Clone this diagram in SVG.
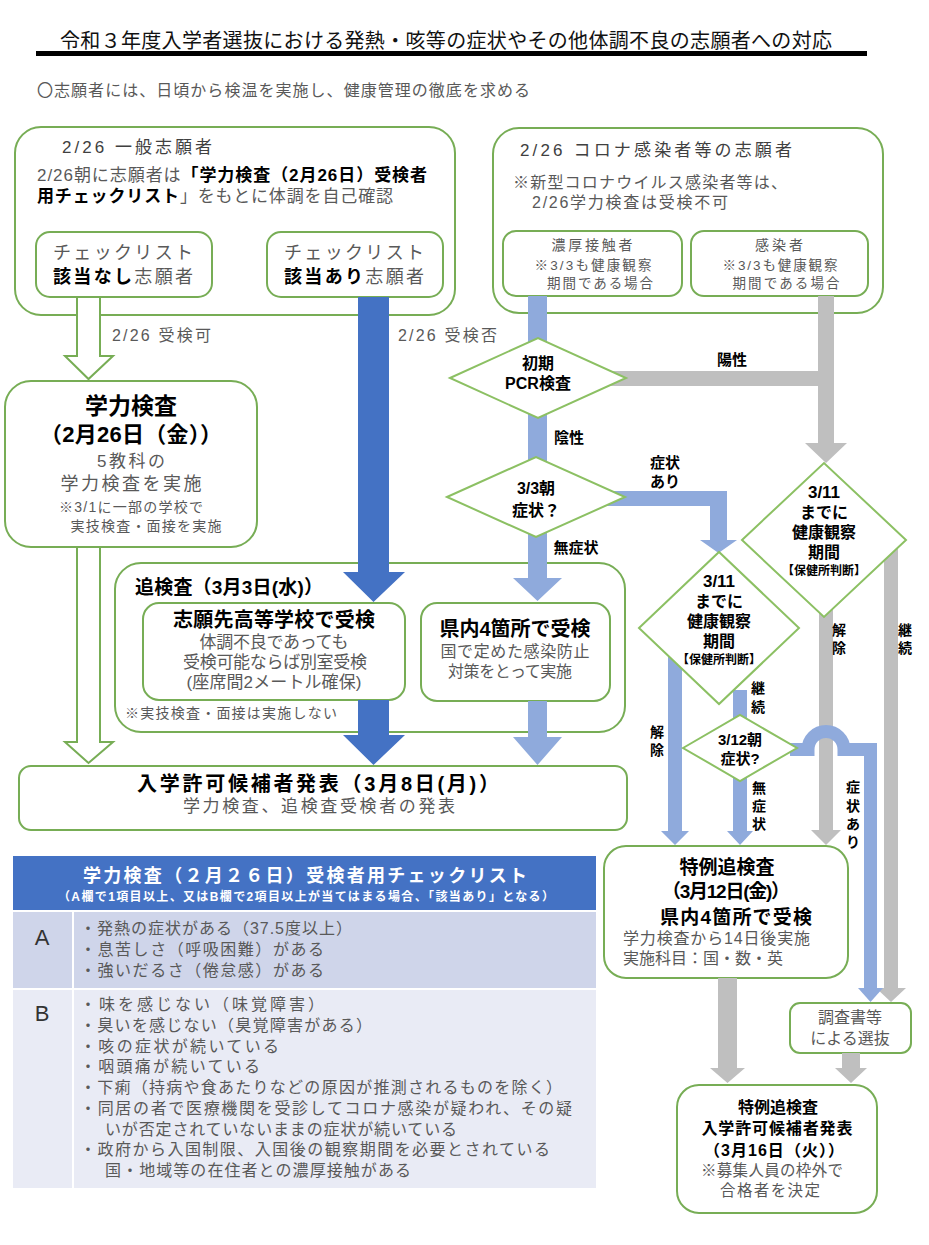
<svg xmlns="http://www.w3.org/2000/svg" width="929" height="1245" viewBox="0 0 929 1245">
<style>
text{font-family:"Liberation Sans","Noto Sans CJK JP","Noto Sans CJK SC",sans-serif;}
.g{fill:#595959}
.k{fill:#000;font-weight:bold}
.w{fill:#fff;font-weight:bold}
.box{fill:#fff;stroke:#77AD55;stroke-width:2}
.dia{fill:#fff;stroke:#8CC063;stroke-width:2}
.lb{fill:#8FAADC}
.gr{fill:#BFBFBF}
.db{fill:#4472C4}
.wa{fill:#fff;stroke:#77AD55;stroke-width:2}
.m{text-anchor:middle}
</style>
<rect width="929" height="1245" fill="#fff"/>

<g id="title">
<text x="60" y="48" font-size="20" textLength="772" fill="#111">令和３年度入学者選抜における発熱・咳等の症状やその他体調不良の志願者への対応</text>
<rect x="36" y="51" width="831" height="5" fill="#000"/>
<text x="37" y="96" font-size="16" textLength="493" class="g">〇志願者には、日頃から検温を実施し、健康管理の徹底を求める</text>
</g>

<g id="general">
<rect class="box" x="15" y="127" width="440" height="188" rx="26"/>
<text x="62" y="153" font-size="17" textLength="150" fill="#404040">2/26 一般志願者</text>
<text x="37" y="181" font-size="17" textLength="390"><tspan class="g">2/26朝に志願者は</tspan><tspan class="k">「学力検査（2月26日）受検者</tspan></text>
<text x="37" y="202" font-size="17" textLength="356"><tspan class="k">用チェックリスト</tspan><tspan class="g">」をもとに体調を自己確認</tspan></text>
</g>
<g id="nocheck">
<rect class="box" x="36" y="232" width="176" height="65" rx="14"/>
<text x="123" y="259" font-size="18" textLength="140" class="g m">チェックリスト</text>
<text x="123" y="283" font-size="18" textLength="140" class="m"><tspan class="k">該当なし</tspan><tspan class="g">志願者</tspan></text>
</g>
<g id="yescheck">
<rect class="box" x="267" y="232" width="176" height="65" rx="14"/>
<text x="354" y="259" font-size="18" textLength="140" class="g m">チェックリスト</text>
<text x="354" y="283" font-size="18" textLength="140" class="m"><tspan class="k">該当あり</tspan><tspan class="g">志願者</tspan></text>
</g>

<g id="corona">
<rect class="box" x="493" y="128" width="390" height="185" rx="26"/>
<text x="520" y="156" font-size="17" textLength="272" fill="#404040">2/26 コロナ感染者等の志願者</text>
<text x="513" y="188" font-size="16" textLength="274" class="g">※新型コロナウイルス感染者等は、</text>
<text x="532" y="208" font-size="16" textLength="196" class="g">2/26学力検査は受検不可</text>
</g>
<g id="close-contact">
<rect class="box" x="503" y="231" width="179" height="65" rx="13"/>
<text x="592" y="250" font-size="14" textLength="81" class="g m">濃厚接触者</text>
<text x="593" y="270" font-size="13.5" textLength="117" class="g m">※3/3も健康観察</text>
<text x="600" y="288" font-size="13.5" textLength="106" class="g m">期間である場合</text>
</g>
<g id="infected">
<rect class="box" x="691" y="231" width="177" height="65" rx="13"/>
<text x="779" y="250" font-size="14" textLength="48" class="g m">感染者</text>
<text x="780" y="270" font-size="13.5" textLength="115" class="g m">※3/3も健康観察</text>
<text x="786" y="288" font-size="13.5" textLength="107" class="g m">期間である場合</text>
</g>

<g id="exam">
<rect class="box" x="5" y="381" width="252" height="166" rx="26"/>
<text x="131" y="414" font-size="23" class="k m">学力検査</text>
<text x="131" y="442" font-size="22" textLength="182" class="k m">（2月26日（金））</text>
<text x="131" y="467" font-size="17" textLength="68" class="g m">5教科の</text>
<text x="131" y="490" font-size="18" textLength="141" class="g m">学力検査を実施</text>
<text x="131" y="512" font-size="14" textLength="144" class="g m">※3/1に一部の学校で</text>
<text x="146" y="531" font-size="14" textLength="151" class="g m">実技検査・面接を実施</text>
</g>

<g id="makeup">
<rect class="box" x="115" y="563" width="510" height="169" rx="26"/>
<text x="135" y="594" font-size="19" textLength="188" class="k">追検査（3月3日(水)）</text>
<text x="125" y="718" font-size="14" textLength="212" class="g">※実技検査・面接は実施しない</text>
</g>
<g id="own-school">
<rect class="box" x="143" y="603" width="262" height="97" rx="16"/>
<text x="274" y="627" font-size="20" textLength="202" class="k m">志願先高等学校で受検</text>
<text x="274" y="648" font-size="17" textLength="149" class="g m">体調不良であっても</text>
<text x="275" y="668" font-size="17" textLength="184" class="g m">受検可能ならば別室受検</text>
<text x="274" y="688" font-size="17" textLength="175" class="g m">(座席間2メートル確保)</text>
</g>
<g id="four-sites">
<rect class="box" x="421" y="603" width="189" height="98" rx="16"/>
<text x="515" y="636" font-size="20" textLength="151" class="k m">県内4箇所で受検</text>
<text x="515" y="657" font-size="16" textLength="149" class="g m">国で定めた感染防止</text>
<text x="510" y="677" font-size="16" textLength="124" class="g m">対策をとって実施</text>
</g>

<g id="announce">
<rect class="box" x="19" y="766" width="608" height="64" rx="12"/>
<text x="318" y="791" font-size="20" textLength="362" class="k m">入学許可候補者発表（3月8日(月)）</text>
<text x="319" y="812" font-size="17" textLength="272" class="g m">学力検査、追検査受検者の発表</text>
</g>

<g id="special">
<rect class="box" x="604" y="846" width="244" height="132" rx="22"/>
<text x="727" y="874" font-size="19" class="k m">特例追検査</text>
<text x="726" y="898" font-size="19" textLength="128" class="k m">（3月12日(金)）</text>
<text x="736" y="924" font-size="19" textLength="152" class="k m">県内4箇所で受検</text>
<text x="623" y="944" font-size="16" textLength="187" class="g">学力検査から14日後実施</text>
<text x="623" y="964" font-size="16" textLength="160" class="g">実施科目：国・数・英</text>
</g>
<g id="documents">
<rect class="box" x="790" y="1003" width="121" height="50" rx="10"/>
<text x="850" y="1023" font-size="16" class="g m">調査書等</text>
<text x="850" y="1044" font-size="16" class="g m">による選抜</text>
</g>
<g id="special-announce">
<rect class="box" x="677" y="1085" width="200" height="128" rx="22"/>
<text x="778" y="1113" font-size="16" class="k m">特例追検査</text>
<text x="777" y="1134" font-size="16" textLength="151" class="k m">入学許可候補者発表</text>
<text x="774" y="1156" font-size="16" textLength="140" class="k m">（3月16日（火））</text>
<text x="772" y="1176" font-size="15.5" textLength="142" class="g m">※募集人員の枠外で</text>
<text x="770" y="1196" font-size="15.5" textLength="100" class="g m">合格者を決定</text>
</g>

<g id="connectors">
<polygon class="wa" points="77,297 100,297 100,356 113,356 88.5,379 65,356 77,356"/>
<polygon class="wa" points="77,547 100,547 100,742 113,742 88.5,763 65,742 77,742"/>
<polygon class="db" points="358,297 389,297 389,572 405,572 373.5,602 343,572 358,572"/>
<polygon class="db" points="358,700 389,700 389,735 405,735 373.5,765 343,735 358,735"/>
<rect class="lb" x="528" y="296" width="19" height="50"/>
<rect class="lb" x="528" y="410" width="19" height="55"/>
<polygon class="lb" points="528,530 547,530 547,578 562,578 537.5,601 513,578 528,578"/>
<polygon class="lb" points="528,701 547,701 547,737 562,737 537.5,765 513,737 528,737"/>
<polygon class="lb" points="600,491 727,491 727,540 737,540 718.5,553 700,540 710,540 710,506 600,506"/>
<rect class="gr" x="600" y="371" width="234" height="15"/>
<polygon class="gr" points="818,296 834,296 834,443 847,443 826,463 805,443 818,443"/>
<polygon class="gr" points="819,600 833,600 833,830 841,830 826,845 811,830 819,830"/>
<polygon class="gr" points="884,545 898,545 898,988 906,988 891,1002 876,988 884,988"/>
<polygon class="lb" points="668,650 682,650 682,831 689,831 675,845 661,831 668,831"/>
<rect class="lb" x="733" y="690" width="14" height="30"/>
<polygon class="lb" points="733,775 747,775 747,831 753,831 740,845 727,831 733,831"/>
<path d="M790 749.5 H808 A18 18 0 0 1 844 749.5 H870.5 V988" fill="none" stroke="#8FAADC" stroke-width="13"/>
<polygon class="lb" points="858,988 883,988 870.5,1002"/>
<polygon class="gr" points="718,978 737,978 737,1068 745,1068 727.5,1083 710,1068 718,1068"/>
<polygon class="gr" points="842,1053 860,1053 860,1068 867,1068 851,1083 835,1068 842,1068"/>
</g>

<g id="pcr">
<polygon class="dia" points="450,378 538,338 626,378 538,418"/>
<text x="538" y="369" font-size="16" class="k m">初期</text>
<text x="538" y="389" font-size="16" class="k m">PCR検査</text>
</g>
<g id="sym33">
<polygon class="dia" points="447,497 536,457 625,497 536,537"/>
<text x="536" y="494" font-size="16" class="k m">3/3朝</text>
<text x="536" y="516" font-size="16" class="k m">症状？</text>
</g>
<g id="obs-right">
<polygon class="dia" points="742,540 824,463 906,540 824,617"/>
<text x="824" y="498" font-size="17" class="k m">3/11</text>
<text x="824" y="518" font-size="16" class="k m">までに</text>
<text x="824" y="538" font-size="16" class="k m">健康観察</text>
<text x="824" y="558" font-size="16" class="k m">期間</text>
<text x="824" y="575" font-size="12" class="k m">【保健所判断】</text>
</g>
<g id="obs-mid">
<polygon class="dia" points="639,628 719,552 799,628 719,704"/>
<text x="719" y="587" font-size="17" class="k m">3/11</text>
<text x="719" y="607" font-size="16" class="k m">までに</text>
<text x="719" y="627" font-size="16" class="k m">健康観察</text>
<text x="719" y="647" font-size="16" class="k m">期間</text>
<text x="719" y="664" font-size="12" class="k m">【保健所判断】</text>
</g>
<g id="sym312">
<polygon class="dia" points="683,748 740,715 797,748 740,781"/>
<text x="740" y="745" font-size="15" class="k m">3/12朝</text>
<text x="740" y="764" font-size="15" class="k m">症状?</text>
</g>

<g id="labels" font-size="15">
<text x="112" y="341" font-size="16" textLength="99" class="g">2/26 受検可</text>
<text x="398" y="341" font-size="16" textLength="99" class="g">2/26 受検否</text>
<text x="732" y="365" class="k m">陽性</text>
<text x="569" y="443" class="k m">陰性</text>
<text x="665" y="468" class="k m">症状</text>
<text x="665" y="487" class="k m">あり</text>
<text x="576" y="553" class="k m">無症状</text>
<text x="839" y="635" font-size="14" class="k m">解</text>
<text x="839" y="653" font-size="14" class="k m">除</text>
<text x="905" y="635" font-size="14" class="k m">継</text>
<text x="905" y="653" font-size="14" class="k m">続</text>
<text x="758" y="693" font-size="14" class="k m">継</text>
<text x="758" y="712" font-size="14" class="k m">続</text>
<text x="657" y="737" font-size="14" class="k m">解</text>
<text x="657" y="755" font-size="14" class="k m">除</text>
<text x="759" y="793" font-size="14" class="k m">無</text>
<text x="759" y="811" font-size="14" class="k m">症</text>
<text x="759" y="829" font-size="14" class="k m">状</text>
<text x="853" y="792" font-size="14" class="k m">症</text>
<text x="853" y="811" font-size="14" class="k m">状</text>
<text x="853" y="829" font-size="14" class="k m">あ</text>
<text x="853" y="847" font-size="14" class="k m">り</text>
</g>

<g id="checklist">
<rect x="13" y="856" width="583" height="54" fill="#4472C4"/>
<text x="305" y="882" font-size="18" textLength="444" class="w m">学力検査（２月２６日）受検者用チェックリスト</text>
<text x="306" y="901" font-size="12" textLength="496" class="w m">（A欄で1項目以上、又はB欄で2項目以上が当てはまる場合、「該当あり」となる）</text>
<rect x="13" y="912" width="59" height="76" fill="#CFD5EA"/>
<rect x="74" y="912" width="522" height="76" fill="#CFD5EA"/>
<rect x="13" y="990" width="59" height="198" fill="#E9EBF5"/>
<rect x="74" y="990" width="522" height="198" fill="#E9EBF5"/>
<text x="42" y="945" font-size="22" fill="#333" class="m" style="font-family:'Liberation Sans Narrow','Liberation Sans',sans-serif">A</text>
<text x="42" y="1021" font-size="22" fill="#333" class="m" style="font-family:'Liberation Sans Narrow','Liberation Sans',sans-serif">B</text>
<g font-size="16" class="g">
<text x="80" y="934" textLength="272">・発熱の症状がある（37.5度以上）</text>
<text x="80" y="955" textLength="244">・息苦しさ（呼吸困難）がある</text>
<text x="80" y="976" textLength="244">・強いだるさ（倦怠感）がある</text>
<text x="80" y="1010" textLength="244">・味を感じない（味覚障害）</text>
<text x="80" y="1031" textLength="292">・臭いを感じない（臭覚障害がある）</text>
<text x="80" y="1052" textLength="199">・咳の症状が続いている</text>
<text x="80" y="1072" textLength="180">・咽頭痛が続いている</text>
<text x="80" y="1093" textLength="482">・下痢（持病や食あたりなどの原因が推測されるものを除く）</text>
<text x="80" y="1114" textLength="492">・同居の者で医療機関を受診してコロナ感染が疑われ、その疑</text>
<text x="105" y="1135" textLength="352">いが否定されていないままの症状が続いている</text>
<text x="80" y="1155" textLength="470">・政府から入国制限、入国後の観察期間を必要とされている</text>
<text x="105" y="1176" textLength="306">国・地域等の在住者との濃厚接触がある</text>
</g>
</g>
</svg>
